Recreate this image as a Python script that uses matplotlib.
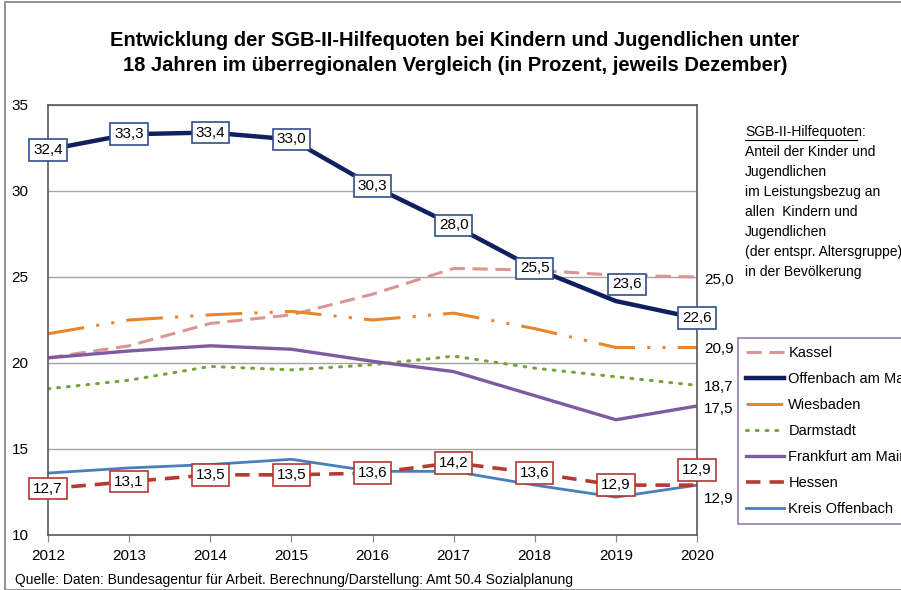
import matplotlib
matplotlib.use("Agg")
from matplotlib import pyplot as plt
from matplotlib.patches import Rectangle

plt.rcParams['font.family'] = ['Liberation Sans Narrow', 'Liberation Sans', 'DejaVu Sans']

years = [2012, 2013, 2014, 2015, 2016, 2017, 2018, 2019, 2020]

kassel = [20.3, 21.0, 22.3, 22.8, 24.0, 25.5, 25.4, 25.1, 25.0]
offenbach = [32.4, 33.3, 33.4, 33.0, 30.3, 28.0, 25.5, 23.6, 22.6]
wiesbaden = [21.7, 22.5, 22.8, 23.0, 22.5, 22.9, 22.0, 20.9, 20.9]
darmstadt = [18.5, 19.0, 19.8, 19.6, 19.9, 20.4, 19.7, 19.2, 18.7]
frankfurt = [20.3, 20.7, 21.0, 20.8, 20.1, 19.5, 18.1, 16.7, 17.5]
hessen = [12.7, 13.1, 13.5, 13.5, 13.6, 14.2, 13.6, 12.9, 12.9]
kreis_of = [13.6, 13.9, 14.1, 14.4, 13.7, 13.7, 12.9, 12.2, 12.9]

c_kassel = '#d99694'
c_of = '#0f1f5f'
c_wi = '#e8862e'
c_da = '#77a33a'
c_ffm = '#7f5aa0'
c_he = '#b43a32'
c_kof = '#4a7ebb'

fig = plt.figure(figsize=(9.01, 5.90), dpi=100)
ax = fig.add_axes([48 / 901, 1 - 535 / 590, (697 - 48) / 901, (535 - 105) / 590])

ax.plot(years, kassel, color=c_kassel, lw=2.2, dashes=(5, 2.5), label='Kassel')
ax.plot(years, offenbach, color=c_of, lw=3.2, label='Offenbach am Main', zorder=5)
ax.plot(years, wiesbaden, color=c_wi, lw=2.2, dashes=(12, 4, 1, 4, 1, 4), label='Wiesbaden')
ax.plot(years, darmstadt, color=c_da, lw=2.2, dashes=(0.6, 2.6), dash_capstyle='round', label='Darmstadt')
ax.plot(years, frankfurt, color=c_ffm, lw=2.4, label='Frankfurt am Main')
ax.plot(years, hessen, color=c_he, lw=2.6, dashes=(4, 2.5), label='Hessen', zorder=4)
ax.plot(years, kreis_of, color=c_kof, lw=2.0, label='Kreis Offenbach')

ax.set_xlim(2012, 2020)
ax.set_ylim(10, 35)
ax.set_yticks([10, 15, 20, 25, 30, 35])
ax.set_xticks(years)
ax.grid(axis='y', color='#a6a6a6', lw=1)
ax.set_axisbelow(True)
for s in ax.spines.values():
    s.set_color('#595959')
    s.set_linewidth(1.2)
ax.tick_params(axis='both', labelsize=11, color='#868686', length=5)
ax.tick_params(axis='y', length=0, pad=14)
ax.tick_params(axis='x', pad=5)

# boxed data labels (offsets in points)
of_off = [(0, 0), (0, 0), (0, 0), (0, 0), (0, 0), (0, 0), (0, 0), (8, 12), (0, 0)]
for x, v, (dx, dy) in zip(years, offenbach, of_off):
    ax.annotate(f'{v:.1f}'.replace('.', ','), (x, v), xytext=(dx, dy),
                textcoords='offset points', ha='center', va='center', fontsize=11, zorder=7,
                bbox=dict(boxstyle='square,pad=0.25', fc='white', ec='#30508a', lw=1.2))
he_off = [(0, 0), (0, 0), (0, 0), (0, 0), (0, 0), (0, 0), (0, 0), (0, 0), (0, 11)]
for x, v, (dx, dy) in zip(years, hessen, he_off):
    ax.annotate(f'{v:.1f}'.replace('.', ','), (x, v), xytext=(dx, dy),
                textcoords='offset points', ha='center', va='center', fontsize=11, zorder=7,
                bbox=dict(boxstyle='square,pad=0.25', fc='white', ec='#b03a32', lw=1.2))

# end values at the right side
end_vals = [(kassel[-1], -0.2), (wiesbaden[-1], -0.1), (darmstadt[-1], -0.1), (frankfurt[-1], -0.2), (kreis_of[-1], -0.8)]
for v, dy in end_vals:
    ax.annotate(f'{v:.1f}'.replace('.', ','), (1.0, v + dy), xycoords=('axes fraction', 'data'),
                xytext=(5, 0), textcoords='offset points', ha='left', va='center', fontsize=11,
                annotation_clip=False)

# note on the right
fig.text(745 / 901, 1 - 132 / 590, 'SGB-II-Hilfequoten:', fontsize=10, va='center')
fig.add_artist(plt.Line2D([745 / 901, 857 / 901], [1 - 140 / 590, 1 - 140 / 590], color='black', lw=0.8))
note = ['Anteil der Kinder und', 'Jugendlichen', 'im Leistungsbezug an', 'allen  Kindern und',
        'Jugendlichen', '(der entspr. Altersgruppe)', 'in der Bevölkerung']
for i, line in enumerate(note):
    fig.text(745 / 901, 1 - (152 + 20 * i) / 590, line, fontsize=10, va='center')

leg = fig.legend(loc='upper left', bbox_to_anchor=(738 / 901, 1 - 338 / 590), fontsize=10.5,
                 frameon=True, fancybox=False, edgecolor='#7f5aa0', handlelength=2.6,
                 handletextpad=0.3, labelspacing=0.82, borderpad=0.55, borderaxespad=0)
leg.get_frame().set_linewidth(1.2)

fig.text(455 / 901, 1 - 53 / 590,
         'Entwicklung der SGB-II-Hilfequoten bei Kindern und Jugendlichen unter\n'
         '18 Jahren im überregionalen Vergleich (in Prozent, jeweils Dezember)',
         ha='center', va='center', fontsize=14.5, fontweight='bold', linespacing=1.35)
fig.text(15 / 901, 1 - 580 / 590,
         'Quelle: Daten: Bundesagentur für Arbeit. Berechnung/Darstellung: Amt 50.4 Sozialplanung',
         fontsize=10, va='center')

fig.add_artist(Rectangle((5 / 901, 0), 1, 1 - 2 / 590, transform=fig.transFigure, fill=False,
                         ec='#7f7f7f', lw=1.2))

fig.savefig('out.png', dpi=100)
